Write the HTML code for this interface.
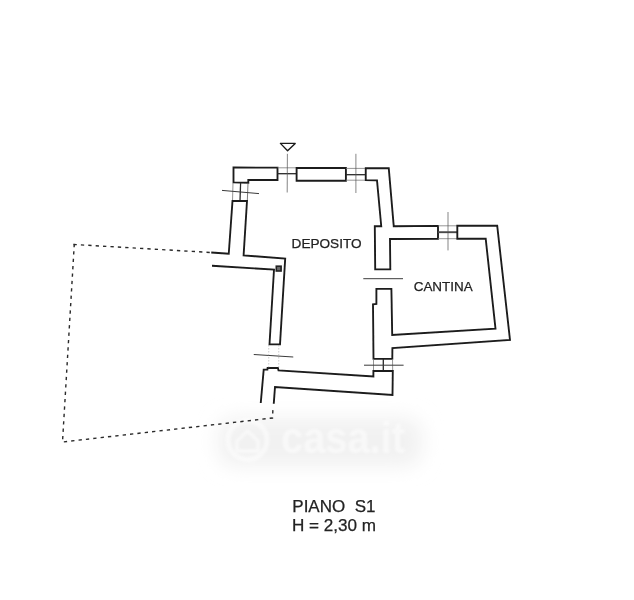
<!DOCTYPE html>
<html>
<head>
<meta charset="utf-8">
<style>
html,body{margin:0;padding:0;background:#fff;}
body{width:634px;height:600px;overflow:hidden;position:relative;font-family:"Liberation Sans",sans-serif;}
svg{position:absolute;left:0;top:0;}
.w{fill:none;stroke:#1a1a1a;stroke-width:1.85;stroke-linejoin:miter;stroke-linecap:butt;}
.t{fill:none;stroke:#2a2a2a;stroke-width:1.3;}
.t2{fill:none;stroke:#3a3a3a;stroke-width:1.0;}
.t3{fill:none;stroke:#505050;stroke-width:0.7;}
.tt{fill:none;stroke:#7a7a7a;stroke-width:0.8;}
.d{fill:none;stroke:#2a2a2a;stroke-width:1.4;stroke-dasharray:3.3 4.1;}
.dd{fill:none;stroke:#aaa;stroke-width:0.6;stroke-dasharray:1.5 1.5;}
text{font-family:"Liberation Sans",sans-serif;fill:#222;stroke:#222;stroke-width:0.25;}
</style>
</head>
<body>
<svg width="634" height="600" viewBox="0 0 634 600">
<defs>
<filter id="b" x="-20%" y="-40%" width="140%" height="180%"><feGaussianBlur stdDeviation="10"/></filter>
<filter id="s" x="-5%" y="-5%" width="110%" height="110%"><feGaussianBlur stdDeviation="0.35"/></filter>
<filter id="s2" x="-5%" y="-5%" width="110%" height="110%"><feGaussianBlur stdDeviation="0.3"/></filter>
<filter id="ws" x="-10%" y="-10%" width="120%" height="120%"><feGaussianBlur stdDeviation="1.2"/></filter>
</defs>
<rect width="634" height="600" fill="#fff"/>

<!-- watermark -->
<g id="wm">
<rect x="218" y="418" width="204" height="48" rx="16" fill="#f1f1f1" filter="url(#b)"/>
<g filter="url(#ws)" opacity="0.5">
<circle cx="247.5" cy="440" r="19.5" fill="none" stroke="#fff" stroke-width="5"/>
<path d="M237 441 L247.5 431 L258 441 L258 451 L237 451 Z" fill="none" stroke="#fff" stroke-width="3.5" stroke-linejoin="round"/>
<text x="281" y="453" font-size="44" font-weight="bold" style="fill:#fff;stroke:none" textLength="124" lengthAdjust="spacingAndGlyphs">casa.it</text>
</g>
</g>

<g filter="url(#s)">
<!-- dashed outline -->
<path class="d" d="M73.5 244.45 L211 252.5"/>
<path class="d" d="M74.3 243.9 L62.5 442 L272.5 418 L273 408"/>

<!-- top-left corner block -->
<path class="w" d="M233.5 167.5 L277.5 167.7 L277.5 180 L248.3 180 L248.3 182.7 L233.5 182.3 Z"/>
<!-- left window -->
<path class="tt" d="M233 183 L232.5 201"/><path class="tt" style="stroke:#5a5a5a" d="M248 183 L247.3 201"/>
<path class="t" d="M240.6 183 L240 201"/>
<path class="t2" d="M222 190.4 L259 193.6"/>
<!-- left wall + partition -->
<path class="w" d="M211.25 252.5 L228.75 253.75 L232.5 201 L247 201 L243.6 255.4 L285.2 258.5 L280 344.3 L269.5 344.3 L274 269.7 L212 265.75"/>
<rect x="276.3" y="266.2" width="4.8" height="4.8" fill="#6a6a6a" stroke="#222" stroke-width="1.6"/>

<!-- top window 1 -->
<path class="tt" d="M277.5 167.8 L296.5 167.8"/>
<path class="t" d="M277.5 173.7 L296.5 173.7"/>
<path class="t3" d="M287.4 153.8 L287.2 192.5"/>
<path class="w" d="M280.4 143.4 L295.2 143.4 L287.6 150.8 Z" style="stroke-width:1.35;stroke-linejoin:round"/>
<!-- top middle block -->
<path class="w" d="M296.6 168 L345.9 168 L345.9 180.75 L296.6 180.75 Z"/>
<!-- top window 2 -->
<path class="tt" d="M346 168.4 L365.75 168.4 M346 180.2 L365.75 180.2"/>
<path class="t" d="M346 174.7 L365.75 174.7"/>
<path class="t3" d="M355.9 153.8 L355.9 193"/>
<!-- right wall block -->
<path class="w" d="M365.75 168.25 L388.75 168.25 L393.75 226.2 L438 225.9 L438 238.8 L390 239 L390.3 269.3 L375.2 269.3 L374.8 226.2 L381.25 226.2 L377 180.4 L365.75 180.2 Z"/>
<!-- cantina window -->
<path class="tt" d="M438 225.8 L457.3 225.8 M438 238.7 L457.3 238.7"/>
<path class="t" d="M438 232.2 L457.3 232.2" style="stroke-width:1.9;stroke:#484848"/>
<path class="t3" d="M448 212 L448 250.4"/>
<!-- cantina walls -->
<path class="w" d="M457.3 238.75 L457.3 225.75 L497.2 225.75 L510 340 L392.4 348.2 L392.3 358.9 L373.5 358.9 L373 304.4 L376.4 304 L376.4 288.8 L391.4 288.8 L392.2 335 L495.5 328.75 L485.7 238.75 Z"/>
<!-- door deposito/cantina -->
<path class="t2" d="M363.3 278.7 L403 278.7"/>
<!-- lower right window -->
<path class="tt" d="M373.5 358.9 L373.5 371 M392.5 358.9 L392.7 371"/>
<path class="t" d="M383.3 358.9 L383.3 371"/>
<path class="t2" d="M364 365.2 L403.6 365.2"/>
<!-- bottom wall -->
<path class="w" d="M260.75 403 L263.7 369.7 L267.4 369.6 L267.6 367.9 L277.9 368 L278.5 370.3 L373.4 376.5 L373.4 371 L392.8 371 L392.5 395 L275 387 L273.75 403.75"/>
<!-- door bottom-left -->
<path class="t2" d="M253.75 354.5 L293.25 357"/>
<path class="dd" d="M268.75 345 L268.75 368 M278.75 345 L278.75 368.5"/>
</g>

<g filter="url(#s2)">
<text x="291.6" y="247.5" font-size="13.6">DEPOSITO</text>
<text x="413.7" y="290.6" font-size="13.45">CANTINA</text>
<text x="292.3" y="511.5" font-size="17" xml:space="preserve">PIANO  S1</text>
<text x="292" y="530.6" font-size="17.1">H = 2,30 m</text>
</g>
</svg>
</body>
</html>
